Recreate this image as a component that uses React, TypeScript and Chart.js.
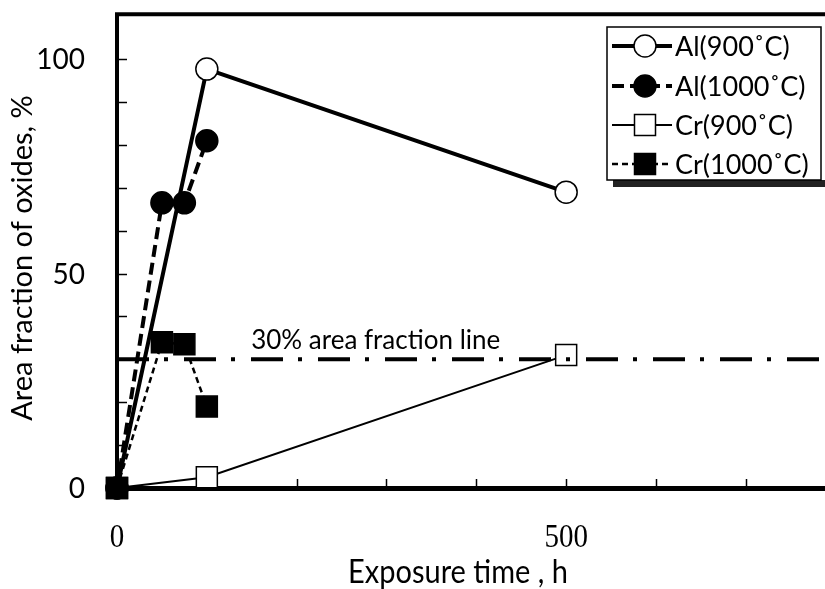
import React, { useEffect, useRef } from 'react';
import { Chart, registerables } from 'chart.js';

Chart.register(...registerables);

// ---- Data ----
const al900X = [0, 100, 500];
const al900Y = [0, 97.7, 69];
const al1000X = [0, 50, 75, 100];
const al1000Y = [0, 66.5, 66.5, 81];
const cr900X = [0, 100, 500];
const cr900Y = [0, 2.5, 31];
const cr1000X = [0, 50, 75, 100];
const cr1000Y = [0, 34, 33.5, 19];
const refLineX = [0, 800];
const refLineY = [30, 30];

const seriesLabels = ['Al(900˚C)', 'Al(1000˚C)', 'Cr(900˚C)', 'Cr(1000˚C)'];
const xTickLabels = [0, 500];
const yTickLabels = [0, 50, 100];
const xMinorTicks = [100, 200, 300, 400, 500, 600, 700];
const yMinorTicks = [10, 20, 30, 40, 50, 60, 70, 80, 90, 100];
const refLabel = '30% area fraction line';
const refLabelAt = [288, 32.5];
const xTitle = 'Exposure time , h';
const yTitle = 'Area fraction of oxides, %';

const SANS = 'Lato, "Noto Sans", sans-serif';
const SERIF = '"Liberation Serif", "DejaVu Serif", serif';

const pts = (xs: number[], ys: number[]) => xs.map((x, i) => ({ x, y: ys[i] }));

type Sty = { lw: number; dash: number[]; marker: 'circle' | 'rect'; fill: string };
const styles: Sty[] = [
  { lw: 4, dash: [], marker: 'circle', fill: '#fff' },
  { lw: 4, dash: [12, 6], marker: 'circle', fill: '#000' },
  { lw: 2, dash: [], marker: 'rect', fill: '#fff' },
  { lw: 2.5, dash: [6, 4], marker: 'rect', fill: '#000' },
];

function drawMarker(ctx: CanvasRenderingContext2D, type: string, x: number, y: number, fill: string) {
  ctx.save();
  ctx.setLineDash([]);
  ctx.fillStyle = fill;
  ctx.strokeStyle = '#000';
  ctx.lineWidth = 1.5;
  ctx.beginPath();
  if (type === 'circle') {
    ctx.arc(x, y, 11, 0, Math.PI * 2);
  } else {
    ctx.rect(x - 10.5, y - 10.5, 21, 21);
  }
  ctx.fill();
  ctx.stroke();
  ctx.restore();
}

const decorPlugin = {
  id: 'decor',
  beforeDatasetsDraw(chart: any) {
    const { ctx, chartArea, scales } = chart;
    const x = scales.x;
    const y = scales.y;
    ctx.save();
    ctx.strokeStyle = '#000';
    ctx.lineWidth = 1.5;
    yMinorTicks.forEach((v) => {
      const py = Math.round(y.getPixelForValue(v)) + 0.5;
      ctx.beginPath();
      ctx.moveTo(chartArea.left, py);
      ctx.lineTo(chartArea.left + 10, py);
      ctx.stroke();
    });
    xMinorTicks.forEach((v) => {
      const px = Math.round(x.getPixelForValue(v)) + 0.5;
      ctx.beginPath();
      ctx.moveTo(px, chartArea.bottom);
      ctx.lineTo(px, chartArea.bottom - 9);
      ctx.stroke();
    });
    ctx.lineWidth = 4;
    ctx.beginPath();
    ctx.moveTo(chartArea.left - 2, chartArea.top - 2);
    ctx.lineTo(chart.width, chartArea.top - 2);
    ctx.stroke();

    // tick labels
    ctx.fillStyle = '#000';
    ctx.font = `28px ${SANS}`;
    ctx.textAlign = 'right';
    ctx.textBaseline = 'middle';
    yTickLabels.forEach((v) => {
      ctx.fillText(String(v), chartArea.left - 32, y.getPixelForValue(v) + 1);
    });
    ctx.font = `29px ${SERIF}`;
    ctx.textAlign = 'center';
    ctx.textBaseline = 'alphabetic';
    xTickLabels.forEach((v) => {
      ctx.save();
      ctx.translate(x.getPixelForValue(v), chartArea.bottom + 59);
      ctx.scale(1, 1.15);
      ctx.fillText(String(v), 0, 0);
      ctx.restore();
    });

    // axis titles
    ctx.font = `29px ${SANS}`;
    ctx.textAlign = 'center';
    ctx.textBaseline = 'alphabetic';
    ctx.save();
    ctx.translate(458, 583);
    ctx.scale(1, 1.1);
    ctx.fillText(xTitle, 0, 0);
    ctx.restore();
    ctx.save();
    ctx.translate(32, 258);
    ctx.rotate(-Math.PI / 2);
    ctx.fillText(yTitle, 0, 0);
    ctx.restore();
    ctx.restore();
  },
  afterDatasetsDraw(chart: any) {
    const { ctx, scales } = chart;
    ctx.save();
    ctx.fillStyle = '#000';
    ctx.font = `26px ${SANS}`;
    ctx.textAlign = 'center';
    ctx.textBaseline = 'alphabetic';
    ctx.fillText(refLabel, scales.x.getPixelForValue(refLabelAt[0]), scales.y.getPixelForValue(refLabelAt[1]));

    // legend
    const bx = 607, by = 27, bw = 214, bh = 153;
    ctx.fillStyle = '#222';
    ctx.fillRect(bx + 6, by + bh, bw + 10, 7);
    ctx.fillStyle = '#fff';
    ctx.fillRect(bx, by, bw, bh);
    ctx.strokeStyle = '#000';
    ctx.lineWidth = 1.5;
    ctx.strokeRect(bx, by, bw, bh);
    const rows = [46, 86, 125, 164];
    seriesLabels.forEach((lab, i) => {
      const s = styles[i];
      const ry = rows[i];
      ctx.save();
      ctx.strokeStyle = '#000';
      ctx.lineWidth = s.lw;
      ctx.setLineDash(s.dash);
      ctx.beginPath();
      ctx.moveTo(612, ry);
      ctx.lineTo(672, ry);
      ctx.stroke();
      ctx.restore();
      drawMarker(ctx, s.marker, 645, ry, s.fill);
      ctx.fillStyle = '#000';
      ctx.font = `27px ${SANS}`;
      ctx.textAlign = 'left';
      ctx.textBaseline = 'middle';
      ctx.fillText(lab, 675, ry + 1);
    });
    ctx.restore();
  },
};

// canvas is a bit wider than the window: Chart.js keeps ~16px clear for the large markers,
// and the plot's x = 800 edge sits just outside the visible 825px.
const CANVAS_W = 852;
const CANVAS_H = 589;

export default function App() {
  const ref = useRef<HTMLCanvasElement>(null);
  useEffect(() => {
    const canvas = ref.current!;
    const mk = (i: number, xs: number[], ys: number[]) => ({
      label: seriesLabels[i],
      data: pts(xs, ys),
      showLine: true,
      borderColor: '#000',
      borderWidth: styles[i].lw,
      borderDash: styles[i].dash,
      pointStyle: styles[i].marker === 'circle' ? 'circle' : 'rect',
      pointRadius: styles[i].marker === 'circle' ? 11 : 14.85,
      pointBackgroundColor: styles[i].fill,
      pointBorderColor: '#000',
      pointBorderWidth: 1.5,
      clip: false as any,
    });
    const chart = new Chart(canvas, {
      type: 'scatter',
      data: {
        datasets: [
          {
            label: 'ref',
            data: pts(refLineX, refLineY),
            showLine: true,
            borderColor: '#000',
            borderWidth: 4,
            borderDash: [32, 15, 4, 16],
            pointRadius: 0,
            clip: false as any,
          },
          mk(3, cr1000X, cr1000Y),
          mk(2, cr900X, cr900Y),
          mk(1, al1000X, al1000Y),
          mk(0, al900X, al900Y),
        ] as any,
      },
      options: {
        animation: false,
        responsive: false,
        maintainAspectRatio: false,
        devicePixelRatio: 1,
        events: [],
        layout: { padding: { top: 14, left: 0, right: 0, bottom: 0 } },
        plugins: { legend: { display: false }, tooltip: { enabled: false } },
        scales: {
          x: {
            type: 'linear',
            min: 0,
            max: 800,
            grid: { display: false, drawTicks: false },
            border: { display: true, width: 5, color: '#000' },
            ticks: { display: false, stepSize: 100 },
            title: { display: false, text: xTitle },
            afterFit: (s: any) => {
              s.height = 101;
            },
          },
          y: {
            type: 'linear',
            min: 0,
            max: 110,
            grid: { display: false, drawTicks: false },
            border: { display: true, width: 4, color: '#000' },
            ticks: { display: false, stepSize: 10 },
            title: { display: false, text: yTitle },
            afterFit: (s: any) => {
              s.width = 117;
            },
          },
        },
      },
      plugins: [decorPlugin],
    });
    return () => chart.destroy();
  }, []);
  return (
    <div
      style={{
        position: 'absolute',
        left: 0,
        top: 0,
        width: 825,
        height: 589,
        overflow: 'hidden',
        background: '#fff',
      }}
    >
      <div style={{ width: CANVAS_W, height: CANVAS_H }}>
        <canvas
          ref={ref}
          width={CANVAS_W}
          height={CANVAS_H}
          style={{ display: 'block', width: CANVAS_W, height: CANVAS_H }}
        />
      </div>
    </div>
  );
}
